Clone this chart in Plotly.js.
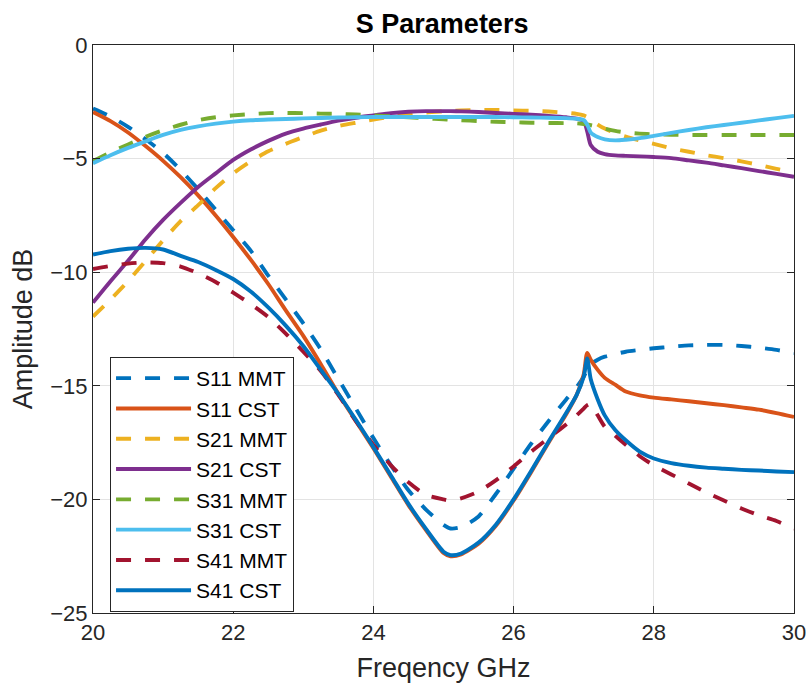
<!DOCTYPE html>
<html>
<head>
<meta charset="utf-8">
<script src="https://cdn.plot.ly/plotly-3.0.1.min.js"></script>
<style>html,body{margin:0;padding:0;background:#fff;}#chart{width:809px;height:686px;}</style>
</head>
<body>
<div id="chart"></div>
<script>
const freq = [20,20.25,20.5,20.75,21,21.25,21.5,21.75,22,22.25,22.5,22.75,23,23.25,23.5,23.75,24,24.25,24.5,24.75,25,25.1,25.25,25.5,25.75,26,26.25,26.5,26.75,26.9,27.0,27.05,27.1,27.2,27.3,27.45,27.6,27.8,28,28.25,28.5,28.75,29,29.25,29.5,29.75,30];

const s11MMT = [-2.8,-3.15,-3.6,-4.15,-4.75,-5.5,-6.35,-7.25,-8.15,-9.05,-10.15,-11.2,-12.25,-13.4,-14.7,-16.0,-17.3,-18.5,-19.6,-20.45,-21.12,-21.28,-21.22,-20.75,-19.75,-18.65,-17.55,-16.55,-15.6,-15.05,-14.6,-14.3,-14.05,-13.85,-13.72,-13.6,-13.5,-13.42,-13.35,-13.28,-13.22,-13.2,-13.2,-13.25,-13.32,-13.42,-13.56];
const s11CST = [-2.95,-3.35,-3.85,-4.45,-5.1,-5.82,-6.62,-7.5,-8.45,-9.45,-10.52,-11.68,-12.8,-14.05,-15.35,-16.55,-17.75,-19.0,-20.25,-21.35,-22.36,-22.5,-22.42,-21.95,-21.15,-20.05,-18.8,-17.5,-16.25,-15.4,-14.5,-13.55,-13.85,-14.3,-14.65,-14.95,-15.25,-15.42,-15.52,-15.6,-15.68,-15.77,-15.85,-15.95,-16.05,-16.2,-16.37];
const s21MMT = [-11.95,-11.2,-10.4,-9.5,-8.6,-7.75,-7.05,-6.3,-5.65,-5.12,-4.68,-4.35,-4.05,-3.77,-3.57,-3.42,-3.28,-3.15,-3.05,-2.97,-2.92,-2.9,-2.88,-2.86,-2.86,-2.88,-2.9,-2.93,-2.98,-3.03,-3.1,-3.17,-3.28,-3.5,-3.68,-3.88,-4.03,-4.2,-4.35,-4.55,-4.7,-4.85,-4.98,-5.12,-5.28,-5.45,-5.6];
const s21CST = [-11.34,-10.4,-9.5,-8.55,-7.7,-6.95,-6.25,-5.65,-5.06,-4.6,-4.22,-3.9,-3.68,-3.5,-3.33,-3.2,-3.1,-3.0,-2.94,-2.91,-2.91,-2.91,-2.92,-2.95,-2.99,-3.03,-3.07,-3.12,-3.18,-3.24,-3.35,-3.8,-4.4,-4.7,-4.8,-4.86,-4.88,-4.9,-4.93,-4.98,-5.08,-5.18,-5.3,-5.42,-5.55,-5.67,-5.8];
const s31MMT = [-5.1,-4.72,-4.38,-4.04,-3.75,-3.51,-3.31,-3.18,-3.1,-3.04,-3.0,-2.99,-3.0,-3.02,-3.03,-3.06,-3.1,-3.14,-3.18,-3.23,-3.27,-3.29,-3.31,-3.35,-3.38,-3.4,-3.42,-3.43,-3.44,-3.45,-3.48,-3.5,-3.53,-3.6,-3.68,-3.78,-3.85,-3.9,-3.93,-3.95,-3.96,-3.96,-3.96,-3.96,-3.96,-3.96,-3.96];
const s31CST = [-5.2,-4.85,-4.53,-4.24,-3.96,-3.74,-3.58,-3.46,-3.37,-3.31,-3.28,-3.26,-3.23,-3.21,-3.19,-3.18,-3.17,-3.17,-3.17,-3.17,-3.17,-3.17,-3.17,-3.17,-3.17,-3.18,-3.19,-3.2,-3.22,-3.25,-3.3,-3.5,-3.85,-4.05,-4.15,-4.2,-4.17,-4.1,-4.0,-3.87,-3.74,-3.62,-3.52,-3.42,-3.32,-3.22,-3.12];
const s41MMT = [-9.86,-9.72,-9.62,-9.57,-9.6,-9.75,-10.05,-10.43,-10.9,-11.4,-11.97,-12.7,-13.5,-14.35,-15.4,-16.55,-17.6,-18.5,-19.25,-19.8,-20.0,-20.05,-19.95,-19.65,-19.15,-18.55,-17.9,-17.3,-16.7,-16.3,-16.0,-15.85,-15.8,-16.3,-16.8,-17.2,-17.6,-18.1,-18.5,-18.9,-19.3,-19.7,-20.05,-20.4,-20.7,-20.95,-21.3];
const s41CST = [-9.22,-9.07,-8.97,-8.93,-9.0,-9.28,-9.55,-9.9,-10.3,-10.85,-11.55,-12.35,-13.25,-14.3,-15.35,-16.5,-17.7,-18.95,-20.2,-21.3,-22.3,-22.45,-22.38,-21.9,-21.1,-20.0,-18.75,-17.45,-16.2,-15.4,-14.6,-13.8,-14.7,-15.6,-16.3,-16.95,-17.4,-17.9,-18.2,-18.4,-18.52,-18.6,-18.65,-18.7,-18.73,-18.77,-18.8];

const seriesNames = ['S11 MMT','S11 CST','S21 MMT','S21 CST','S31 MMT','S31 CST','S41 MMT','S41 CST'];
const seriesData = [s11MMT, s11CST, s21MMT, s21CST, s31MMT, s31CST, s41MMT, s41CST];
const seriesColors = ['#0072BD','#D95319','#EDB120','#7E2F8E','#77AC30','#4DBEEE','#A2142F','#0072BD'];
const seriesDash = ['15px,14px','solid','15px,14px','solid','15px,14px','solid','15px,14px','solid'];

const traces = seriesNames.map((n, i) => ({
  type: 'scatter', mode: 'lines', name: n, x: freq, y: seriesData[i],
  line: {color: seriesColors[i], width: 3.9, dash: seriesDash[i], shape: 'spline', smoothing: 0.7}
}));

const font = 'Liberation Sans, Arial, Helvetica, sans-serif';
const axisCommon = {
  showline: true, linecolor: '#262626', linewidth: 1, mirror: 'ticks',
  ticks: 'inside', ticklen: 7, tickcolor: '#262626', tickwidth: 1,
  showgrid: true, gridcolor: '#e3e3e3', gridwidth: 1, zeroline: false,
  tickfont: {family: font, size: 22, color: '#262626'}
};

const layout = {
  width: 809, height: 686,
  margin: {l: 93, r: 15, t: 45, b: 73},
  paper_bgcolor: '#ffffff', plot_bgcolor: '#ffffff',
  title: {text: '<b>S Parameters</b>', font: {family: font, size: 27, color: '#000'}, x: 0.5465, xanchor: 'center', y: 0.965, yanchor: 'middle', yref: 'container'},
  xaxis: Object.assign({}, axisCommon, {range: [20, 30], dtick: 2, tick0: 20,
    title: {text: 'Freqency GHz', font: {family: font, size: 27, color: '#262626'}, standoff: 13}}),
  yaxis: Object.assign({}, axisCommon, {range: [-25, 0], dtick: 5, tick0: 0,
    title: {text: 'Amplitude dB', font: {family: font, size: 27, color: '#262626'}, standoff: 9}}),
  legend: {x: 0.0243, y: 0.4507, xanchor: 'left', yanchor: 'top', bgcolor: '#ffffff',
    bordercolor: '#262626', borderwidth: 1, font: {family: font, size: 21, color: '#000'},
    itemwidth: 75, tracegroupgap: 0},
  showlegend: true
};

Plotly.newPlot('chart', traces, layout, {displayModeBar: false, staticPlot: true});
</script>
</body>
</html>
